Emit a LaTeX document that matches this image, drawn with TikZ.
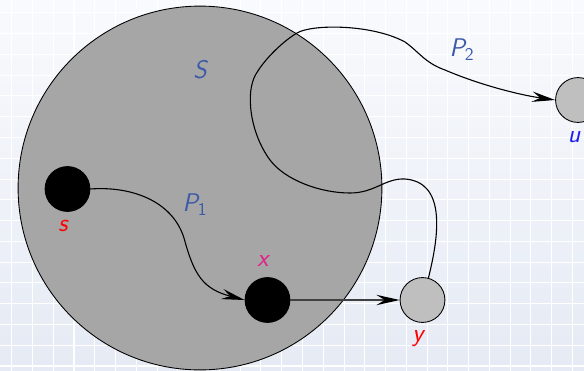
\documentclass[tikz,border=0pt]{standalone}
\usetikzlibrary{arrows.meta}
\definecolor{bgtop}{HTML}{F9FAFD}
\definecolor{bgbot}{HTML}{E5EAF4}
\definecolor{setfill}{HTML}{A6A6A6}
\definecolor{vtxgray}{HTML}{BFBFBF}
\definecolor{pathlbl}{HTML}{3C5AA8}
\definecolor{xlbl}{HTML}{E0218A}
\definecolor{ulbl}{HTML}{1E1EF0}
\tikzset{
  setS/.style={circle,draw=black,line width=0.6pt,fill=setfill,minimum size=87.6mm,inner sep=0pt},
  blackvtx/.style={circle,draw=black,fill=black,line width=0.6pt,minimum size=10.8mm,inner sep=0pt},
  grayvtx/.style={blackvtx,fill=vtxgray},
  lbl/.style={font=\fontsize{17.5}{20}\selectfont\sffamily\slshape,inner sep=0pt},
  gridline/.style={draw=white,line width=0.7pt},
  arr/.style={-{Stealth[length=5.6mm,width=2.5mm,inset=2mm]},line width=0.75pt},
}

\begin{document}
\begin{tikzpicture}[x=0.024075cm,y=-0.024075cm]
  \useasboundingbox (0,0) rectangle (584,371);
  % background with grid
  \shade[top color=bgtop,bottom color=bgbot] (0,0) rectangle (584,371);
  \foreach \gx in {0,...,27} \draw[gridline] ({11.7+20.77*\gx},0) -- ++(0,371);
  \foreach \gy in {0,...,17} \draw[gridline] (0,{12.9+20.77*\gy}) -- ++(584,0);
  % the set and its vertices
  \node[setS] (setS) at (200,188) {};
  \node[blackvtx] (s) at (67.5,189) {};
  \node[blackvtx] (x) at (267.5,300) {};
  \node[grayvtx] (y) at (422.5,300) {};
  \node[grayvtx] (u) at (578,100) {};
  \node[lbl,text=pathlbl] (Slbl) at (200,70) {S};
  \node[lbl,text=pathlbl] (P1lbl) at (195,205) {P\textsubscript{\upshape 1}};
  \node[lbl,text=pathlbl] (P2lbl) at (462,50) {P\textsubscript{\upshape 2}};
  \node[lbl,text=red] (slbl) at (63,226) {s};
  \node[lbl,text=xlbl] (xlbl) at (263,261) {x};
  \node[lbl,text=red] (ylbl) at (418,339) {y};
  \node[lbl,text=ulbl] (ulbl) at (574,137) {u};
  % paths
  \draw[arr] (s.east) .. controls (130,186) and (172,200) .. (184,238)
    .. controls (194,275) and (203,289) .. (x.west);
  \draw[arr,draw=black!75,line width=1.4pt,
    -{Stealth[length=5.6mm,width=2.5mm,inset=2mm,color=black]}] (x) -- (y);
  \draw[arr] (y.75) .. controls (440,232) and (445,182) .. (405,179)
    .. controls (385,178) and (375,193) .. (350,193)
    .. controls (320,193) and (285,180) .. (270,160)
    .. controls (250,133) and (245,92) .. (256,74)
    .. controls (266,57) and (285,40) .. (297,33)
    .. controls (312,24) and (372,24) .. (405,42)
    .. controls (418,51) and (425,63) .. (445,70)
    .. controls (480,85) and (520,95) .. (u.west);
\end{tikzpicture}
\end{document}
